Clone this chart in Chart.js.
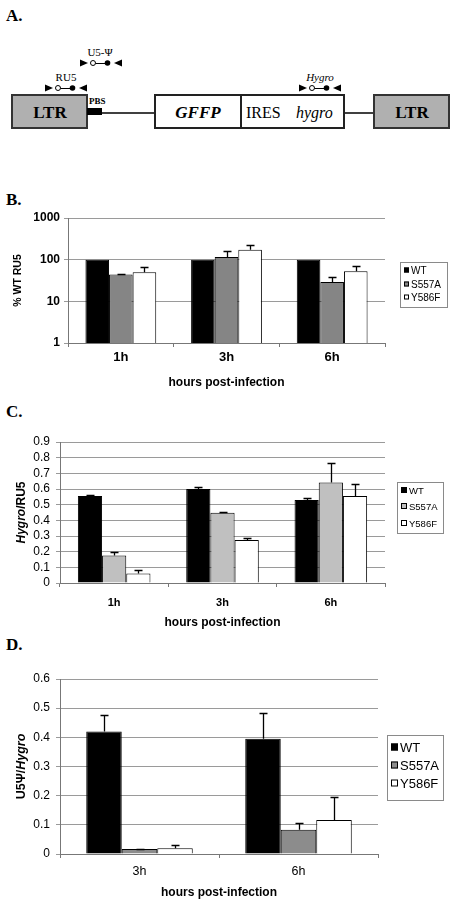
<!DOCTYPE html>
<html>
<head>
<meta charset="utf-8">
<script src="https://cdn.jsdelivr.net/npm/chart.js@4/dist/chart.umd.min.js"></script>
<style>
body { margin: 0; background: #fff; width: 458px; height: 902px; position: relative; overflow: hidden; }
canvas { position: absolute; left: 0; }
svg { position: absolute; left: 0; top: 0; }
.lbl { position: absolute; left: 6px; font: bold 17px "Liberation Serif"; line-height: 20px; }
</style>
</head>
<body>

<svg width="458" height="170" font-family="Liberation Serif">
  <defs>
    <g id="primer">
      <polygon points="0,-3.5 8,0 0,3.5" fill="#000"/>
      <line x1="15.5" y1="0.5" x2="25" y2="0.5" stroke="#000" stroke-width="1"/>
      <circle cx="13" cy="0" r="2.5" fill="#fff" stroke="#000" stroke-width="1"/>
      <circle cx="27.5" cy="0" r="2.8" fill="#000"/>
      <polygon points="42,-3.5 34,0 42,3.5" fill="#000"/>
    </g>
  </defs>
  <text x="6" y="21" font-size="17" font-weight="bold">A.</text>

  <text x="100" y="56" font-size="11" text-anchor="middle">U5-Ψ</text>
  <use href="#primer" x="80" y="63"/>
  <text x="66" y="81" font-size="11" text-anchor="middle">RU5</text>
  <use href="#primer" x="45" y="88"/>
  <text x="320" y="81" font-size="11" font-style="italic" text-anchor="middle">Hygro</text>
  <use href="#primer" x="299" y="88"/>

  <line x1="100" y1="113" x2="155" y2="113" stroke="#000" stroke-width="1.5"/>
  <line x1="344" y1="113" x2="374" y2="113" stroke="#000" stroke-width="1.5"/>

  <rect x="12" y="95" width="75" height="33" fill="#b0b0b0" stroke="#333" stroke-width="2"/>
  <text x="50" y="118" font-size="17" font-weight="bold" text-anchor="middle">LTR</text>
  <rect x="87" y="108" width="15" height="7" fill="#000"/>
  <text x="89" y="104" font-size="9" font-weight="bold">PBS</text>

  <rect x="155" y="95" width="189" height="33" fill="#fff" stroke="#222" stroke-width="2"/>
  <line x1="241" y1="95" x2="241" y2="128" stroke="#222" stroke-width="2"/>
  <text x="198" y="118" font-size="17" font-weight="bold" font-style="italic" text-anchor="middle">GFFP</text>
  <text x="246" y="118" font-size="16">IRES</text>
  <text x="296" y="118" font-size="16" font-style="italic">hygro</text>

  <rect x="374" y="95" width="75" height="33" fill="#b0b0b0" stroke="#333" stroke-width="2"/>
  <text x="412" y="118" font-size="17" font-weight="bold" text-anchor="middle">LTR</text>
</svg>

<div class="lbl" style="top:190px">B.</div>
<canvas id="chartB" width="458" height="200" style="top:195px"></canvas>
<div class="lbl" style="top:402px">C.</div>
<canvas id="chartC" width="458" height="215" style="top:415px"></canvas>
<div class="lbl" style="top:635px">D.</div>
<canvas id="chartD" width="458" height="247" style="top:655px"></canvas>

<script>
// categorias y series
var catsBC = ['1h', '3h', '6h'];
var catsD = ['3h', '6h'];
var nombres = ['WT', 'S557A', 'Y586F'];

// B: % WT RU5 (escala log)
var bWT = [100, 100, 100];
var bS557A = [44, 116, 29];
var bY586F = [50, 174, 53];
var bS557AErr = [46, 158, 39];   // extremo superior de la barra de error
var bY586FErr = [66, 230, 70];
var bTicks = [1, 10, 100, 1000];

// C: Hygro/RU5
var cWT = [0.555, 0.6, 0.53];
var cS557A = [0.175, 0.448, 0.642];
var cY586F = [0.06, 0.275, 0.555];
var cWTErr = [0.56, 0.61, 0.54];
var cS557AErr = [0.2, 0.455, 0.766];
var cY586FErr = [0.08, 0.285, 0.635];
var cTicks = [0, 0.1, 0.2, 0.3, 0.4, 0.5, 0.6, 0.7, 0.8, 0.9];

// D: U5Psi/Hygro
var dWT = [0.42, 0.395];
var dS557A = [0.017, 0.083];
var dY586F = [0.02, 0.117];
var dWTErr = [0.475, 0.485];
var dS557AErr = [0.018, 0.108];
var dY586FErr = [0.032, 0.197];
var dTicks = [0, 0.1, 0.2, 0.3, 0.4, 0.5, 0.6];

var fuente = '"Liberation Sans", Arial, sans-serif';

// barras de error (solo hacia arriba)
var errorBars = {
  id: 'errorBars',
  afterDatasetsDraw: function (chart) {
    var ctx = chart.ctx;
    var y = chart.scales.y;
    ctx.save();
    ctx.strokeStyle = '#000';
    ctx.lineWidth = 1.3;
    chart.data.datasets.forEach(function (ds, i) {
      if (!ds.errTop) return;
      chart.getDatasetMeta(i).data.forEach(function (bar, j) {
        if (ds.errTop[j] == null) return;
        var yt = Math.round(y.getPixelForValue(ds.errTop[j])) + 0.5;
        var yb = y.getPixelForValue(ds.data[j]);
        var x = Math.round(bar.x) + 0.5;
        ctx.beginPath();
        ctx.moveTo(x, yb);
        ctx.lineTo(x, yt);
        ctx.moveTo(x - 4, yt);
        ctx.lineTo(x + 4, yt);
        ctx.stroke();
      });
    });
    ctx.restore();
  }
};

// leyenda con recuadro
function leyenda(o) {
  return {
    id: 'boxLegend',
    afterDraw: function (chart) {
      var ctx = chart.ctx;
      ctx.save();
      ctx.lineWidth = 1;
      ctx.strokeStyle = '#8a8a8a';
      ctx.strokeRect(o.x + 0.5, o.y + 0.5, o.w, o.h);
      ctx.font = o.size + 'px ' + fuente;
      ctx.textBaseline = 'middle';
      chart.data.datasets.forEach(function (ds, i) {
        var cy = Math.round(o.y + o.first + i * o.gap);
        var bx = o.x + 4;
        ctx.fillStyle = ds.backgroundColor;
        ctx.fillRect(bx, cy - o.box / 2, o.box, o.box);
        ctx.strokeStyle = '#000';
        ctx.strokeRect(bx + 0.5, cy - o.box / 2 + 0.5, o.box - 1, o.box - 1);
        ctx.fillStyle = '#000';
        ctx.fillText(ds.label, bx + o.box + 2, cy + 1);
      });
      ctx.restore();
    }
  };
}

// titulo del eje y con partes en cursiva
function tituloY(x, size, partes) {
  return {
    id: 'yTitle',
    afterDraw: function (chart) {
      var ctx = chart.ctx;
      var a = chart.chartArea;
      ctx.save();
      ctx.translate(x, (a.top + a.bottom) / 2);
      ctx.rotate(-Math.PI / 2);
      ctx.textBaseline = 'middle';
      ctx.fillStyle = '#000';
      var total = 0;
      partes.forEach(function (p) {
        ctx.font = (p[1] ? 'italic ' : '') + 'bold ' + size + 'px ' + fuente;
        total += ctx.measureText(p[0]).width;
      });
      var px = -total / 2;
      partes.forEach(function (p) {
        ctx.font = (p[1] ? 'italic ' : '') + 'bold ' + size + 'px ' + fuente;
        ctx.fillText(p[0], px, 0);
        px += ctx.measureText(p[0]).width;
      });
      ctx.restore();
    }
  };
}

function series(wt, s557, y586, errWT, errS, errY, gris) {
  return [
    { label: nombres[0], data: wt, errTop: errWT, backgroundColor: '#000000', borderColor: '#000', borderWidth: 1 },
    { label: nombres[1], data: s557, errTop: errS, backgroundColor: gris, borderColor: '#000', borderWidth: 1 },
    { label: nombres[2], data: y586, errTop: errY, backgroundColor: '#ffffff', borderColor: '#000', borderWidth: 1 }
  ];
}

function grafica(id, cats, datasets, s, extras) {
  var yEje = {
    type: s.yType,
    min: s.min,
    max: s.max,
    afterFit: function (sc) { sc.width = s.yWidth; },
    afterBuildTicks: function (sc) {
      sc.ticks = s.ticks.map(function (v) { return { value: v, major: true }; });
    },
    grid: { color: '#9a9a9a', tickLength: 4, drawTicks: true },
    border: { color: '#777' },
    ticks: {
      color: '#000',
      autoSkip: false,
      padding: s.tickPad,
      font: { family: fuente, size: 12, weight: s.tickBold ? 'bold' : 'normal' },
      callback: function (v) { return String(v); }
    }
  };
  return new Chart(document.getElementById(id), {
    type: 'bar',
    data: { labels: cats, datasets: datasets },
    options: {
      responsive: false,
      animation: false,
      layout: { padding: { top: s.padTop, left: 0, right: s.padRight, bottom: 0 } },
      datasets: { bar: { categoryPercentage: 0.67, barPercentage: 1.0 } },
      plugins: { legend: { display: false }, tooltip: { enabled: false } },
      scales: {
        x: {
          afterFit: function (sc) { sc.height = s.xHeight; },
          grid: { offset: true, drawOnChartArea: false, drawTicks: true, tickLength: 4, color: '#777' },
          border: { color: '#777' },
          ticks: {
            color: '#000',
            padding: s.catPad,
            font: { family: fuente, size: s.catSize, weight: s.catBold ? 'bold' : 'normal' }
          },
          title: {
            display: true,
            text: 'hours post-infection',
            color: '#000',
            font: { family: fuente, size: 12, weight: 'bold' },
            padding: { top: 0, bottom: s.titlePad }
          }
        },
        y: yEje
      }
    },
    plugins: [errorBars].concat(extras)
  });
}

// B
grafica('chartB', catsBC,
  series(bWT, bS557A, bY586F, null, bS557AErr, bY586FErr, '#858585'),
  { yType: 'logarithmic', min: 1, max: 1000, ticks: bTicks, yWidth: 68, xHeight: 52, padTop: 23, padRight: 73,
    tickPad: 4, tickBold: true, catPad: 3, catSize: 13, catBold: true, titlePad: 5 },
  [leyenda({ x: 400, y: 67, w: 47, h: 45, size: 10, box: 5, first: 8, gap: 13.5 }),
   tituloY(18, 10.5, [['% WT RU5', false]])]);

// C
grafica('chartC', catsBC,
  series(cWT, cS557A, cY586F, cWTErr, cS557AErr, cY586FErr, '#c0c0c0'),
  { yType: 'linear', min: 0, max: 0.9, ticks: cTicks, yWidth: 60, xHeight: 47, padTop: 27, padRight: 73,
    tickPad: 6, tickBold: false, catPad: 9, catSize: 11, catBold: true, titlePad: 0 },
  [leyenda({ x: 397, y: 67, w: 46, h: 51, size: 9.5, box: 6, first: 7.5, gap: 16.5 }),
   tituloY(22, 12, [['Hygro', true], ['/RU5', false]])]);

// D
grafica('chartD', catsD,
  series(dWT, dS557A, dY586F, dWTErr, dS557AErr, dY586FErr, '#8c8c8c'),
  { yType: 'linear', min: 0, max: 0.6, ticks: dTicks, yWidth: 60, xHeight: 48, padTop: 24, padRight: 80,
    tickPad: 6, tickBold: false, catPad: 6, catSize: 12.5, catBold: false, titlePad: 2 },
  [leyenda({ x: 387, y: 80, w: 56, h: 65, size: 13, box: 7, first: 12, gap: 18 }),
   tituloY(22, 12.5, [['U5Ψ/', false], ['Hygro', true]])]);
</script>
</body>
</html>
